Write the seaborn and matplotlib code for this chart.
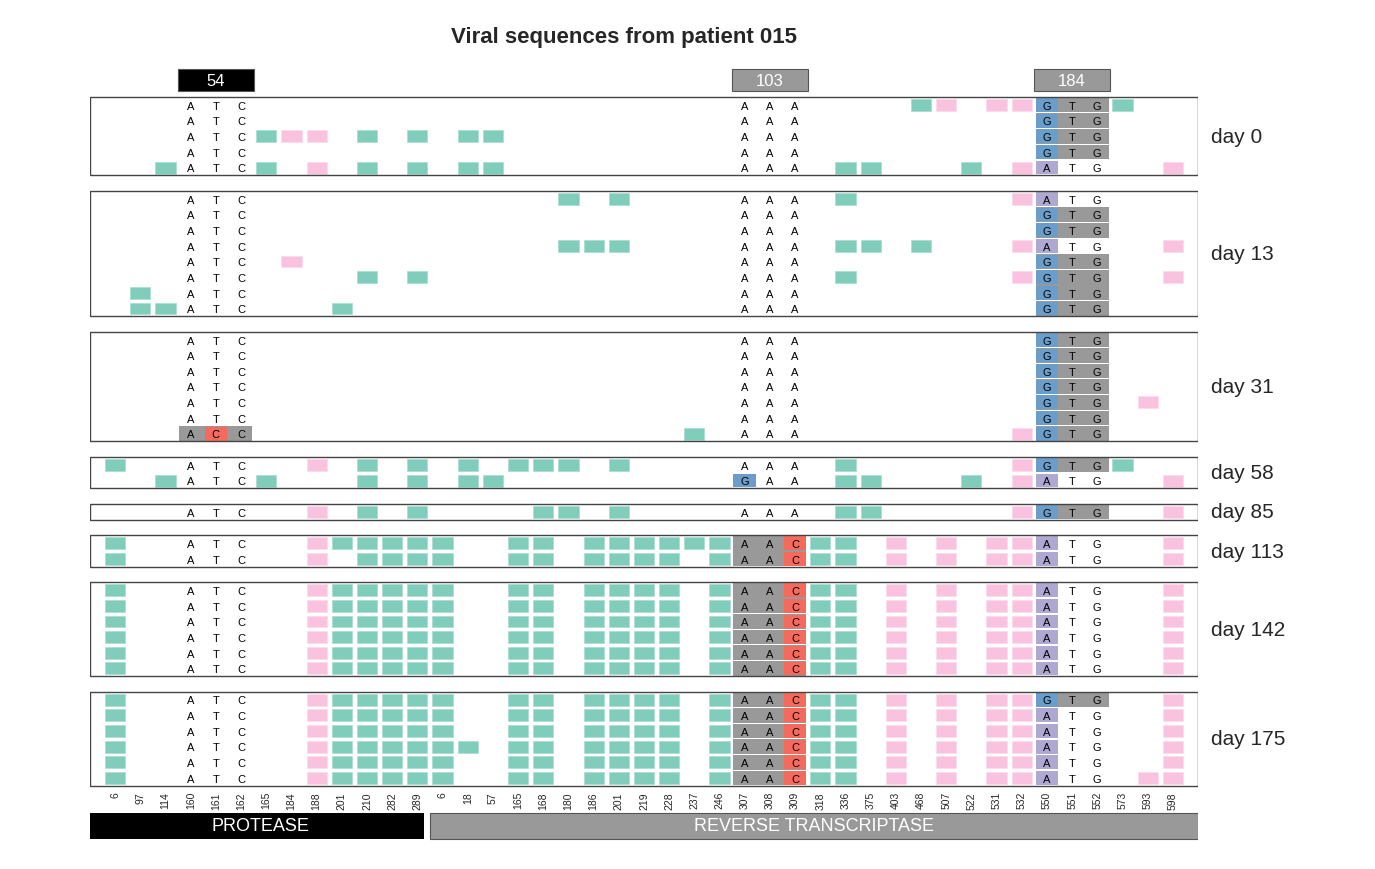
import matplotlib
matplotlib.use("Agg")
import matplotlib.pyplot as plt
import seaborn as sns

sns.set_style("white")
plt.rcParams["font.family"] = ["Liberation Sans", "DejaVu Sans"]

# ─── Data ──────────────────────────────────────────────────────────────────
positions = ["6", "97", "114", "160", "161", "162", "165", "184", "188", "201", "210", "282", "289",
             "6", "18", "57", "165", "168", "180", "186", "201", "219", "228", "237", "246",
             "307", "308", "309", "318", "336", "375", "403", "468", "507", "522", "531", "532",
             "550", "551", "552", "573", "593", "598"]
codon_cols = [3, 25, 37]
codon_names = ["54", "103", "184"]
codon_box_colors = ["black", "#999999", "#999999"]
n_protease = 13

days = ["day 0", "day 13", "day 31", "day 58", "day 85", "day 113", "day 142", "day 175"]

# each sequence: (green columns, pink columns, codons)
# codon letters: lowercase = highlighted nucleotide, trailing "*" = grey codon background
late_green = [0, 9, 10, 11, 12, 13, 16, 17, 19, 20, 21, 22, 24, 28, 29]
late_pink = [8, 31, 33, 35, 36, 42]
day0 = [
    ([32, 40], [33, 35, 36], ["ATC", "AAA", "gTG*"]),
    ([], [], ["ATC", "AAA", "gTG*"]),
    ([6, 10, 12, 14, 15], [7, 8], ["ATC", "AAA", "gTG*"]),
    ([], [], ["ATC", "AAA", "gTG*"]),
    ([2, 6, 10, 12, 14, 15, 29, 30, 34], [8, 36, 42], ["ATC", "AAA", "aTG"]),
]
day13 = [
    ([18, 20, 29], [36], ["ATC", "AAA", "aTG"]),
    ([], [], ["ATC", "AAA", "gTG*"]),
    ([], [], ["ATC", "AAA", "gTG*"]),
    ([18, 19, 20, 29, 30, 32], [36, 42], ["ATC", "AAA", "aTG"]),
    ([], [7], ["ATC", "AAA", "gTG*"]),
    ([10, 12, 29], [36, 42], ["ATC", "AAA", "gTG*"]),
    ([1], [], ["ATC", "AAA", "gTG*"]),
    ([1, 2, 9], [], ["ATC", "AAA", "gTG*"]),
]
day31 = [
    ([], [], ["ATC", "AAA", "gTG*"]),
    ([], [], ["ATC", "AAA", "gTG*"]),
    ([], [], ["ATC", "AAA", "gTG*"]),
    ([], [], ["ATC", "AAA", "gTG*"]),
    ([], [41], ["ATC", "AAA", "gTG*"]),
    ([], [], ["ATC", "AAA", "gTG*"]),
    ([23], [36], ["AcC*", "AAA", "gTG*"]),
]
day58 = [
    ([0, 10, 12, 14, 16, 17, 18, 20, 29, 40], [8, 36], ["ATC", "AAA", "gTG*"]),
    ([2, 6, 10, 12, 14, 15, 29, 30, 34], [36, 42], ["ATC", "gAA", "aTG"]),
]
day85 = [
    ([10, 12, 17, 18, 20, 29, 30], [8, 36, 42], ["ATC", "AAA", "gTG*"]),
]
day113 = [
    ([0, 9, 10, 11, 12, 13, 16, 17, 19, 20, 21, 22, 23, 24, 28, 29], late_pink, ["ATC", "AAc*", "aTG"]),
    ([0, 10, 11, 12, 13, 16, 17, 19, 20, 21, 22, 24, 28, 29], late_pink, ["ATC", "AAc*", "aTG"]),
]
day142 = [(late_green, late_pink, ["ATC", "AAc*", "aTG"]) for _ in range(6)]
day175 = [
    (late_green, late_pink, ["ATC", "AAc*", "gTG*"]),
    (late_green, late_pink, ["ATC", "AAc*", "aTG"]),
    (late_green, late_pink, ["ATC", "AAc*", "aTG"]),
    (late_green + [14], late_pink, ["ATC", "AAc*", "aTG"]),
    (late_green, late_pink, ["ATC", "AAc*", "aTG"]),
    (late_green, late_pink + [41], ["ATC", "AAc*", "aTG"]),
]
panels = [day0, day13, day31, day58, day85, day113, day142, day175]

GREEN = "#80cdbb"
PINK = "#f9c3e0"
GREY = "#999999"
NUC_COLORS = {"a": "#afa8d1", "g": "#6a9dc9", "c": "#f46b5d", "t": "#f2e05c"}

# ─── Figure ────────────────────────────────────────────────────────────────
W, H = 1375, 870
px_top, px_row = 106, 15.65
fig = plt.figure(figsize=(W / 100, H / 100), dpi=100)
ax = fig.add_axes([90 / W, 0, 1108 / W, 1])
ax.set_xlim(-1, 43)
ax.set_ylim((H - px_top) / px_row, -px_top / px_row)
ax.axis("off")

k = 0
for day, seqs in zip(days, panels):
    top = k
    for greens, pinks, codons in seqs:
        ax.bar(greens, 0.76, bottom=k - 0.38, width=0.8, color=GREEN, edgecolor="#a9ddd1", linewidth=0.5)
        ax.bar(pinks, 0.76, bottom=k - 0.38, width=0.8, color=PINK, edgecolor="#fbd9eb", linewidth=0.5)
        for c0, codon in zip(codon_cols, codons):
            grey = codon.endswith("*")
            letters = codon.rstrip("*")
            if grey:
                ax.bar(c0 + 1, 0.94, bottom=k - 0.47, width=2.9, color=GREY, linewidth=0)
            for j, ch in enumerate(letters):
                if ch.islower():
                    ax.bar(c0 + j, 0.88, bottom=k - 0.44, width=0.9, color=NUC_COLORS[ch], linewidth=0)
                ax.text(c0 + j, k + 0.05, ch.upper(), ha="center", va="center", fontsize=8, color="black")
        k += 1
    bottom = k - 1
    ax.add_patch(plt.Rectangle((-1, top - 0.5), 44, bottom - top + 1, fill=False,
                               edgecolor="#444444", linewidth=1.0))
    ax.text(43.5, (top + bottom) / 2, day, ha="left", va="center", fontsize=15)
    k += 1

# codon header boxes
for c0, name, col in zip(codon_cols, codon_names, codon_box_colors):
    ax.bar(c0 + 1, 1.4, bottom=-2.3, width=3, color=col, edgecolor="#555555", linewidth=0.8)
    ax.text(c0 + 1, -1.55, name, ha="center", va="center", fontsize=12, color="white")

# position labels
for i, p in enumerate(positions):
    ax.text(i, (792 - px_top) / px_row, p, rotation=90, ha="center", va="top", fontsize=7.5)

# gene bars
bar_y = (814 - px_top) / px_row
bar_h = 26 / px_row
ax.bar((n_protease - 1) / 2 - 0.5 + 0.0, bar_h, bottom=bar_y, width=n_protease + 0.5, color="black", linewidth=0)
ax.bar((n_protease - 0.5 + 43) / 2, bar_h, bottom=bar_y, width=43 - (n_protease - 0.5),
       color=GREY, edgecolor="#555555", linewidth=0.8)
ax.text((n_protease - 1.5) / 2, bar_y + bar_h / 2, "PROTEASE", ha="center", va="center", fontsize=13, color="white")
ax.text((n_protease - 0.5 + 43) / 2, bar_y + bar_h / 2, "REVERSE TRANSCRIPTASE", ha="center", va="center",
        fontsize=13, color="white")

ax.text(20.2, (37 - px_top) / px_row, "Viral sequences from patient 015", ha="center", va="center",
        fontsize=16, fontweight="bold")

fig.savefig("out.png", dpi=100)
